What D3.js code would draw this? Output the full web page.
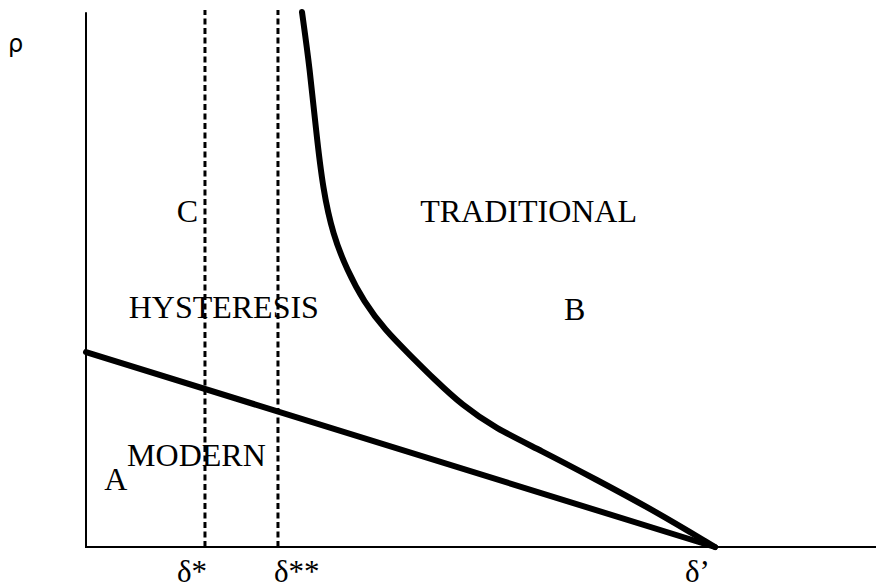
<!DOCTYPE html>
<html>
<head>
<meta charset="utf-8">
<script src="https://cdn.jsdelivr.net/npm/d3@7"></script>
<style>
  body { margin: 0; background: #fff; }
  svg { display: block; }
  text { font-family: "Liberation Serif", "Times New Roman", serif; fill: #000; }
</style>
</head>
<body>
<svg id="chart"></svg>
<script>
// regime boundaries (x = delta, y = rho, 0..100 units)
const curveX = [27.34, 28.35, 29.11, 30.0, 31.27, 33.04, 35.19, 37.85, 41.01, 44.18, 47.59, 51.77, 57.47, 64.68, 71.77, 79.62]
const curveY = [99.63, 88.83, 77.65, 66.48, 58.1, 51.58, 45.62, 40.41, 35.75, 31.1, 26.44, 22.16, 18.06, 12.48, 6.89, 0]
const lineX = [0, 79.62]
const lineY = [36.3, 0]
const dashX = [15.06, 24.3]
const tickLabels = ['δ*', 'δ**', 'δ’']
const tickValues = [15.06, 24.3, 79.62]
const regionLabels = ['C', 'TRADITIONAL', 'HYSTERESIS', 'B', 'MODERN', 'A']
const regionX = [11.5, 42.3, 5.4, 60.5, 5.2, 2.3]
const regionY = [60.5, 60.5, 42.6, 42.3, 15.1, 10.6]

const w = 876
const h = 588
const svg = d3.select('#chart')
    .attr('width', w)
    .attr('height', h)

const x = d3.scaleLinear().domain([0, 100]).range([86, 876])
const y = d3.scaleLinear().domain([0, 100]).range([547, 10])

// axes
svg.append('line')
    .attr('x1', x(0)).attr('x2', x(0))
    .attr('y1', y(0)).attr('y2', y(99.6))
    .attr('stroke', '#000').attr('stroke-width', 2)
svg.append('line')
    .attr('x1', x(0) - 1).attr('x2', x(100))
    .attr('y1', y(0)).attr('y2', y(0))
    .attr('stroke', '#000').attr('stroke-width', 2)

// dashed thresholds
svg.selectAll('.dash')
    .data(dashX)
    .join('line')
    .attr('class', 'dash')
    .attr('x1', d => x(d)).attr('x2', d => x(d))
    .attr('y1', y(0)).attr('y2', y(100))
    .attr('stroke', '#000')
    .attr('stroke-width', 3)
    .attr('stroke-dasharray', '6,3.5')

// straight boundary
const line = d3.line().x(d => x(d[0])).y(d => y(d[1]))
svg.append('path')
    .datum(lineX.map((v, i) => [v, lineY[i]]))
    .attr('d', line)
    .attr('fill', 'none')
    .attr('stroke', '#000')
    .attr('stroke-width', 6)
    .attr('stroke-linecap', 'round')

// curved boundary
svg.append('path')
    .datum(curveX.map((v, i) => [v, curveY[i]]))
    .attr('d', line.curve(d3.curveBasis))
    .attr('fill', 'none')
    .attr('stroke', '#000')
    .attr('stroke-width', 6)
    .attr('stroke-linecap', 'round')

// region labels
svg.selectAll('.region')
    .data(regionLabels)
    .join('text')
    .attr('class', 'region')
    .attr('x', (d, i) => x(regionX[i]))
    .attr('y', (d, i) => y(regionY[i]))
    .style('font-size', '32px')
    .text(d => d)

// tick labels under the axis
const tickShift = [-28, -4, -30]
svg.selectAll('.tick')
    .data(tickLabels)
    .join('text')
    .attr('class', 'tick')
    .attr('x', (d, i) => x(tickValues[i]) + tickShift[i])
    .attr('y', 582)
    .style('font-size', '31px')
    .text(d => d)

svg.append('text')
    .attr('x', 8)
    .attr('y', 52)
    .style('font-family', '"DejaVu Sans", sans-serif')
    .style('font-size', '24px')
    .text('ρ')
</script>
</body>
</html>
